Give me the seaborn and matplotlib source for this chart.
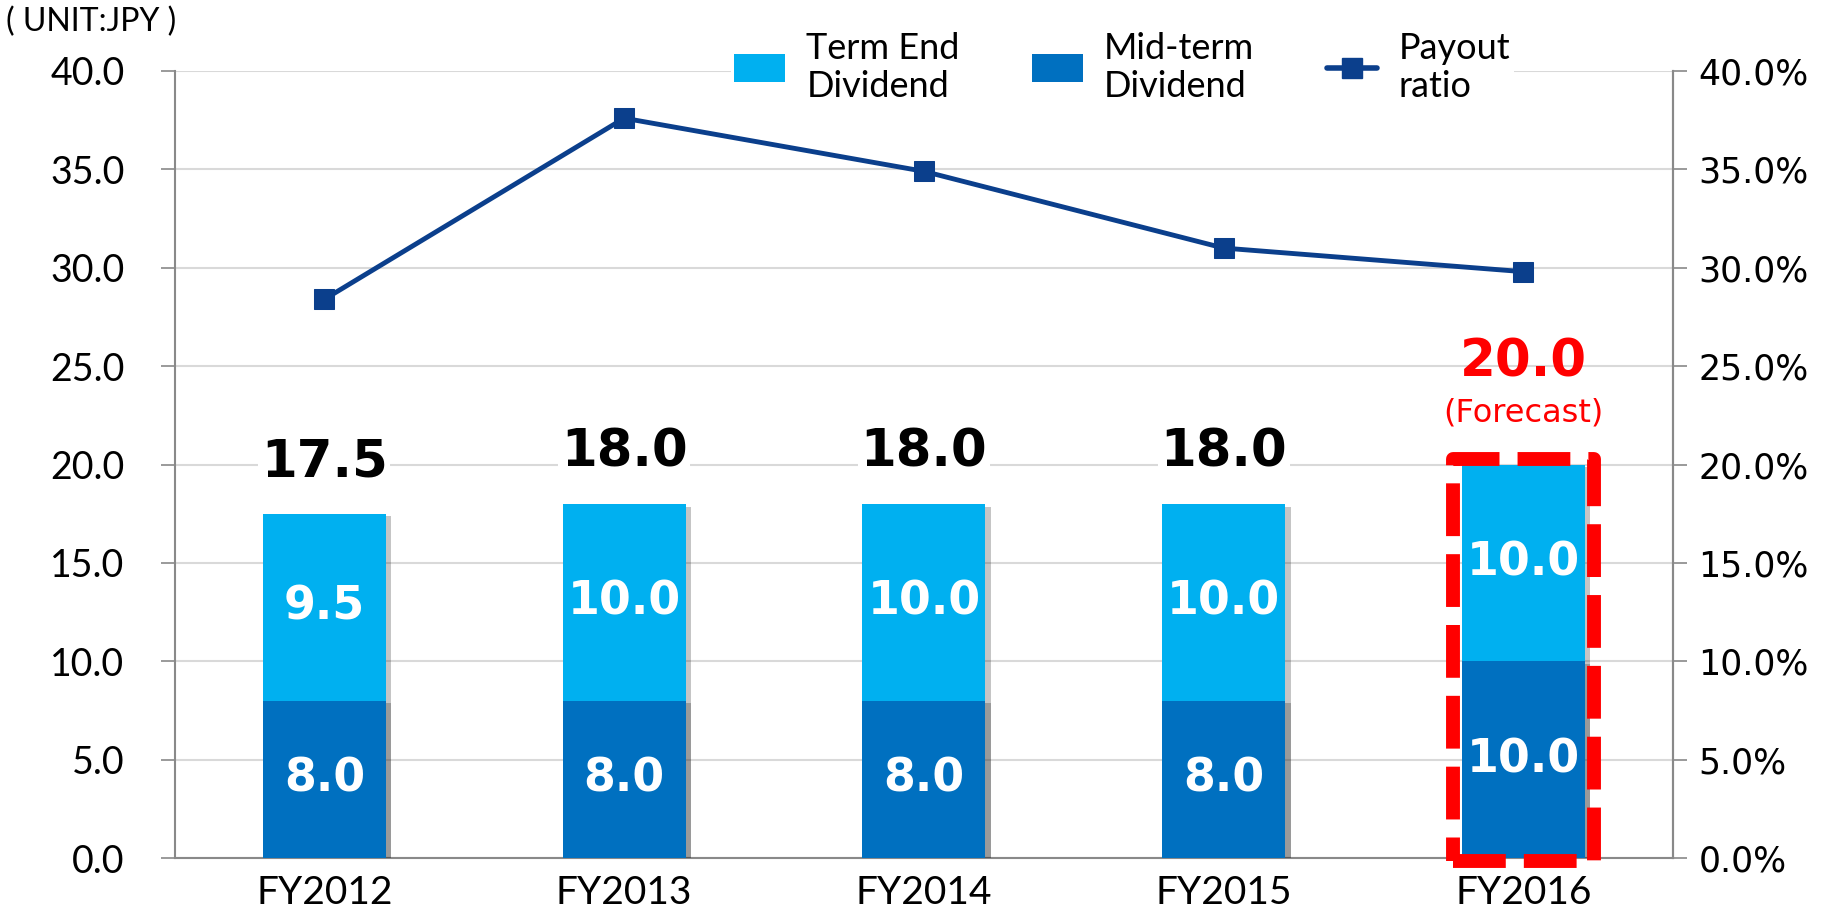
import numpy as np
import pandas as pd
import matplotlib
matplotlib.use('Agg')
import matplotlib.pyplot as plt
import matplotlib.patheffects as pe
from matplotlib.patches import Rectangle, Patch
from matplotlib.lines import Line2D
import seaborn as sns

years = ['FY2012', 'FY2013', 'FY2014', 'FY2015', 'FY2016']
mid_term = [8.0, 8.0, 8.0, 8.0, 10.0]
term_end = [9.5, 10.0, 10.0, 10.0, 10.0]
payout = [28.4, 37.6, 34.9, 31.0, 29.8]

TERM_C = '#00B0F0'
MID_C = '#0070C0'
LINE_C = '#0B3F8C'
GRID_C = '#D9D9D9'
SPINE_C = '#898989'

sns.set_theme(style='white')
plt.rcParams['font.family'] = ['DejaVu Sans']
plt.rcParams['text.color'] = 'black'
narrow = ['Lato', 'DejaVu Sans']

df = pd.DataFrame({'year': years, 'mid': mid_term, 'term': term_end})
df['total'] = df['mid'] + df['term']

fig = plt.figure(figsize=(18.49, 9.22), dpi=100)
ax = fig.add_axes([0.0944, 0.0694, 0.8106, 0.8536])

shadow = [pe.SimplePatchShadow(offset=(4, -2), shadow_rgbFace='k', alpha=0.25), pe.Normal()]
sns.barplot(data=df, x='year', y='total', color=TERM_C, width=0.41, saturation=1,
            linewidth=0, edgecolor='none', ax=ax, zorder=3)
sns.barplot(data=df, x='year', y='mid', color=MID_C, width=0.41, saturation=1,
            linewidth=0, edgecolor='none', ax=ax, zorder=4)
for p in ax.patches:
    p.set_path_effects(shadow)

ax.set_xlim(-0.5, 4.5)
ax.set_ylim(0, 40)
ax.set_yticks(np.arange(0, 40.1, 5))
ax.set_yticklabels([f'{v:.1f}' for v in np.arange(0, 40.1, 5)], fontsize=27, family=narrow, color='black')
ax.set_xticks(range(5))
ax.set_xticklabels(years, fontsize=28, family=narrow, color='black')
ax.set_xticks(np.arange(-0.5, 4.6, 1), minor=True)
ax.tick_params(axis='x', which='major', length=0, pad=12)
ax.tick_params(axis='x', which='minor', length=10, width=1.2, color=SPINE_C, direction='out')
ax.tick_params(axis='y', length=10, width=1.2, color=SPINE_C, direction='out', pad=26)
ax.set_xlabel('')
ax.set_ylabel('')
ax.grid(axis='y', color=GRID_C, lw=1.5, zorder=0)
ax.set_axisbelow(True)
ax.spines['top'].set_visible(False)
for s in ['left', 'right', 'bottom']:
    ax.spines[s].set_color(SPINE_C)
    ax.spines[s].set_linewidth(1.5)

# segment labels
for i, row in df.iterrows():
    ax.text(i, row['mid'] / 2, f"{row['mid']:.1f}", ha='center', va='center',
            color='white', fontsize=33, fontweight='bold', zorder=6)
    ax.text(i, row['mid'] + row['term'] / 2, f"{row['term']:.1f}", ha='center', va='center',
            color='white', fontsize=33, fontweight='bold', zorder=6)
    if i < 4:
        ax.text(i, row['total'] + 2.6, f"{row['total']:.1f}", ha='center', va='center',
                color='black', fontsize=37, fontweight='bold', zorder=6,
                bbox=dict(facecolor='white', edgecolor='none', pad=2))

# forecast
ax.text(4, 25.2, f"{df['total'].iloc[4]:.1f}", ha='center', va='center', color='#FF0000',
        fontsize=37, fontweight='bold', zorder=6)
ax.text(4, 22.6, '(Forecast)', ha='center', va='center', color='#FF0000', fontsize=23, zorder=6)
box = Rectangle((4 - 0.235, -0.15), 0.47, 20.45, fill=False, edgecolor='#FF0000', lw=10,
                linestyle=(0, (3.8, 1.3)), joinstyle='round', capstyle='butt', zorder=7, clip_on=False)
ax.add_patch(box)

# payout ratio on secondary axis
ax2 = ax.twinx()
sns.lineplot(x=np.arange(5), y=payout, ax=ax2, color=LINE_C, lw=3.5, marker='s',
             markersize=15, markeredgecolor=LINE_C, zorder=8)
ax2.set_ylim(0, 40)
ax2.set_yticks(np.arange(0, 40.1, 5))
ax2.set_yticklabels([f'{v:.1f}%' for v in np.arange(0, 40.1, 5)], fontsize=25, color='black')
ax2.tick_params(axis='y', length=10, width=1.2, color=SPINE_C, direction='out', pad=8)
for s in ['top', 'left', 'bottom']:
    ax2.spines[s].set_visible(False)
ax2.spines['right'].set_color(SPINE_C)
ax2.spines['right'].set_linewidth(1.5)
ax2.grid(False)

fig.text(0.003, 0.976, '( UNIT:JPY )', fontsize=23, family=narrow, va='center', ha='left')

handles = [Patch(facecolor=TERM_C, edgecolor='none'),
           Patch(facecolor=MID_C, edgecolor='none'),
           Line2D([0], [0], color=LINE_C, lw=4, marker='s', markersize=15)]
labels = ['Term End\nDividend', 'Mid-term\nDividend', 'Payout\nratio']
leg = fig.legend(handles, labels, loc='center', bbox_to_anchor=(0.607, 0.927), ncol=3,
                 frameon=True, facecolor='white', edgecolor='none', framealpha=1,
                 prop={'family': narrow, 'size': 26}, handlelength=1.4, handleheight=0.8,
                 columnspacing=2.0, handletextpad=0.6, borderpad=0.1, labelspacing=0.2)

fig.savefig('out.png', dpi=100)
